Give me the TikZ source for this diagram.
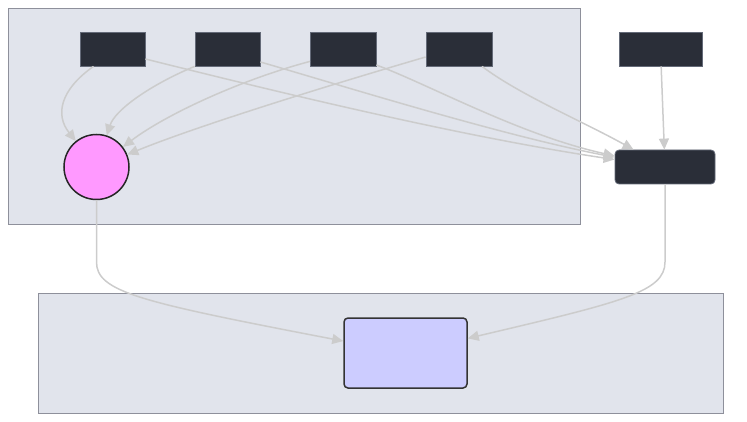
\documentclass[tikz,border=0pt]{standalone}
\usepackage[rgb]{xcolor}
\usepackage{tikz}
\usetikzlibrary{arrows.meta}

\definecolor{groupfill}{RGB}{225,228,236}
\definecolor{groupline}{RGB}{142,144,155}
\definecolor{darkfill}{RGB}{42,46,56}
\definecolor{darkline}{RGB}{100,106,120}
\definecolor{pinkfill}{RGB}{255,153,255}
\definecolor{lilacfill}{RGB}{204,204,255}
\definecolor{edgegray}{RGB}{204,204,204}

\tikzset{
  group/.style={draw=groupline, fill=groupfill, line width=0.9pt},
  darkbox/.style={rectangle, draw=darkline, fill=darkfill, line width=0.8pt,
    minimum height=34pt, inner sep=0pt},
  flow/.style={draw=edgegray, line width=1.5pt, -{Triangle[length=11pt,width=10pt]}}
}

\begin{document}
\begin{tikzpicture}[x=1pt, y=-1pt]
\useasboundingbox (0,0) rectangle (747,422);

%% the two groups
\path[group] (8,8) rectangle (580,224);
\path[group] (38,293) rectangle (723,413);

%% top row of sources
\path
(112.5,49) node[darkbox, minimum width=65pt](srca){}
(227.5,49) node[darkbox, minimum width=65pt](srcb){}
(343,49)   node[darkbox, minimum width=66pt](srcc){}
(459,49)   node[darkbox, minimum width=66pt](srcd){}
(660.5,49) node[darkbox, minimum width=83pt](srce){};

%% collectors
\path
(96.5,167) node[circle, draw=black!85, fill=pinkfill, line width=1.5pt, minimum size=65pt, inner sep=0pt](hub){}
(665,167)  node[darkbox, minimum width=100pt, rounded corners=4pt](join){}
(405.5,353) node[rectangle, draw=black!80, fill=lilacfill, line width=1.5pt, rounded corners=4pt,
  minimum width=123pt, minimum height=70pt, inner sep=0pt](sink){};

%% Arrows into the circle
\draw[flow] ([xshift=-19pt]srca.south) .. controls (60,90) and (55,115) .. (hub);
\draw[flow] (srcb.south west) .. controls (150,85) and (115,110) .. (hub);
\draw[flow] ([xshift=-33pt,yshift=5pt]srcc.south) .. controls (240,80) and (165,115) .. (hub);
\draw[flow] ([yshift=-8pt]srcd.west) .. controls (330,85) and (200,125) .. (hub);

%% Arrows into the right box
\draw[flow] ([yshift=-10pt]srca.east) .. controls (250,85) and (450,135) .. (join);
\draw[flow] ([yshift=-13pt]srcb.east) .. controls (340,85) and (500,135) .. (join);
\draw[flow] ([yshift=-16pt]srcc.east) .. controls (430,85) and (520,135) .. (join);
\draw[flow] ([xshift=23pt]srcd.south) .. controls (520,95) and (580,120) .. (join);
\draw[flow] (srce) -- (join);

%% Arrows down into the lower group
\draw[flow] (hub.south) -- (96.5,262) .. controls (96.5,292) and (140,302) .. (sink);
\draw[flow] (join.south) -- (665,262) .. controls (665,292) and (622,302) .. (sink);

\end{tikzpicture}
\end{document}
